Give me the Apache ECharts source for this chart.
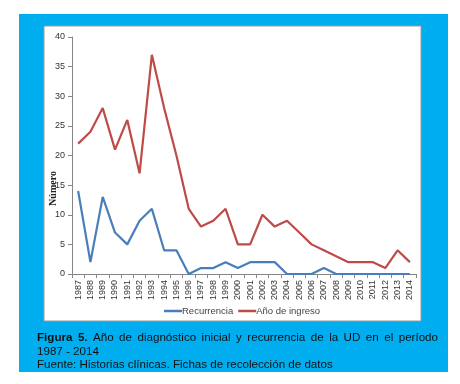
<!DOCTYPE html>
<html>
<head>
<meta charset="utf-8">
<script src="https://cdn.jsdelivr.net/npm/echarts@6/dist/echarts.min.js"></script>
<style>
  html, body { margin: 0; padding: 0; background: #fff; }
  #chart { width: 460px; height: 384px; }
</style>
</head>
<body>
<div id="chart"></div>
<script>
// years on the x axis
const years = ['1987','1988','1989','1990','1991','1992','1993','1994','1995','1996',
  '1997','1998','1999','2000','2001','2002','2003','2004','2005','2006',
  '2007','2008','2009','2010','2011','2012','2013','2014'];
// Recurrencia
const recurrencia = [14, 2, 13, 7, 5, 9, 11, 4, 4, 0, 1, 1, 2, 1, 2, 2, 2, 0, 0, 0, 1, 0, 0, 0, 0, 0, 0, 0];
// Año de ingreso
const ingreso = [22, 24, 28, 21, 26, 17, 37, 28, 20, 11, 8, 9, 11, 5, 5, 10, 8, 9, 7, 5, 4, 3, 2, 2, 2, 1, 4, 2];

const chart = echarts.init(document.getElementById('chart'));

const captionFamily = 'Liberation Sans, Arial, sans-serif';
const captionSize = 11.6;

// first caption line is justified between x=37 and x=438
const line1 = [['Figura', true], ['5.', true], ['Año', false], ['de', false], ['diagnóstico', false],
  ['inicial', false], ['y', false], ['recurrencia', false], ['de', false], ['la', false],
  ['UD', false], ['en', false], ['el', false], ['período', false]];
const ctx = document.createElement('canvas').getContext('2d');
function fontOf(bold) { return (bold ? 'bold ' : '') + captionSize + 'px ' + captionFamily; }
const widths = line1.map(function (w) { ctx.font = fontOf(w[1]); return ctx.measureText(w[0]).width; });
const total = widths.reduce(function (a, b) { return a + b; }, 0);
const gap = (438 - 37 - total) / (line1.length - 1);
const captionGraphics = [];
let cx = 37;
line1.forEach(function (w, i) {
  captionGraphics.push({ type: 'text', x: cx, y: 332,
    style: { text: w[0], font: fontOf(w[1]), fill: '#111' } });
  cx += widths[i] + gap;
});
captionGraphics.push({ type: 'text', x: 37, y: 346,
  style: { text: '1987 - 2014', font: fontOf(false), fill: '#111' } });
captionGraphics.push({ type: 'text', x: 37, y: 359,
  style: { text: 'Fuente: Historias clínicas. Fichas de recolección de datos', font: fontOf(false), fill: '#111' } });

chart.setOption({
  animation: false,
  graphic: [
    { type: 'rect', z: -10, silent: true,
      shape: { x: 19, y: 14, width: 429, height: 358 },
      style: { fill: '#00AEEF' } },
    { type: 'rect', z: -9, silent: true,
      shape: { x: 44, y: 26, width: 377, height: 295 },
      style: { fill: '#fff', stroke: '#9a9a9a', lineWidth: 1 } }
  ].concat(captionGraphics),
  grid: { left: 72, right: 44, top: 37, bottom: 110 },
  legend: {
    top: 306,
    left: 164,
    padding: 0,
    icon: 'rect',
    itemWidth: 18,
    itemHeight: 2.5,
    itemGap: 5,
    textStyle: { fontSize: 9.5, color: '#444', fontFamily: 'Liberation Sans, Arial',
      padding: [0, 0, 0, -5] },
    data: ['Recurrencia', 'Año de ingreso']
  },
  xAxis: {
    type: 'category',
    data: years,
    boundaryGap: true,
    axisLine: { lineStyle: { color: '#868686' } },
    axisTick: { show: true, interval: 0, length: 4, lineStyle: { color: '#868686' } },
    axisLabel: { interval: 0, rotate: 90, fontSize: 9, color: '#333', margin: 6,
      fontFamily: 'Liberation Sans, Arial' }
  },
  yAxis: {
    type: 'value',
    min: 0, max: 40, interval: 5,
    name: 'Número',
    nameLocation: 'middle',
    nameRotate: 90,
    nameGap: 14,
    nameMoveOverlap: false,
    nameTextStyle: { fontFamily: 'Liberation Serif, serif', fontWeight: 'bold', fontSize: 10, color: '#222',
      padding: [0, 66, 0, 0] },
    axisLine: { show: true, lineStyle: { color: '#868686' } },
    axisTick: { show: true, length: 4, lineStyle: { color: '#868686' } },
    splitLine: { show: false },
    axisLabel: { fontSize: 9, color: '#333', margin: 7, fontFamily: 'Liberation Sans, Arial' }
  },
  series: [
    { name: 'Recurrencia', type: 'line', data: recurrencia, symbol: 'none',
      lineStyle: { color: '#4A7EBB', width: 2.2 }, itemStyle: { color: '#4A7EBB' } },
    { name: 'Año de ingreso', type: 'line', data: ingreso, symbol: 'none',
      lineStyle: { color: '#BE4B48', width: 2.2 }, itemStyle: { color: '#BE4B48' } }
  ]
});
</script>
</body>
</html>
